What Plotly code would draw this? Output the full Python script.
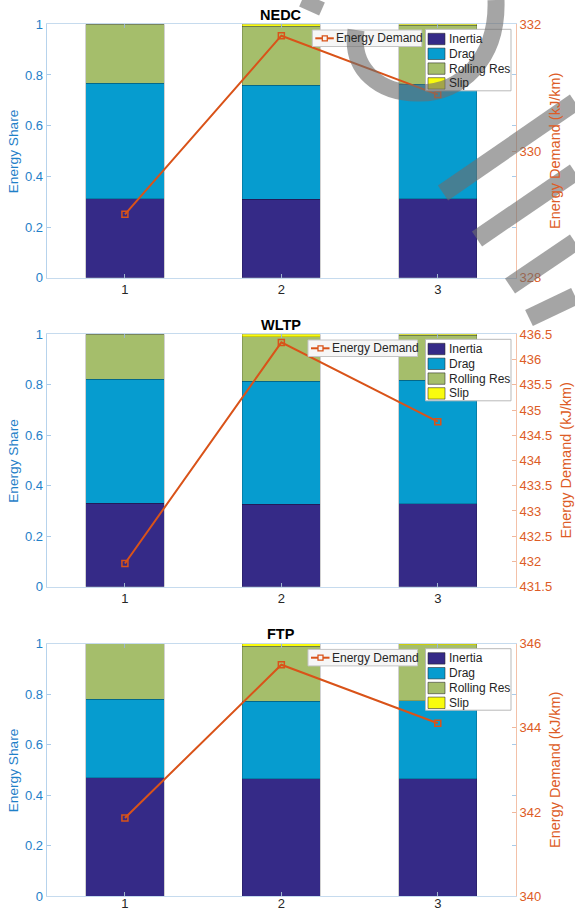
import plotly.graph_objects as go

W, H = 575, 913

# ---------------- data ----------------
categories = [1, 2, 3]
cycle_names = ["NEDC", "WLTP", "FTP"]
series_names = ["Inertia", "Drag", "Rolling Res", "Slip"]
line_name = "Energy Demand"

nedc_inertia = [0.311, 0.309, 0.311]
nedc_drag = [0.456, 0.451, 0.453]
nedc_rolling = [0.233, 0.233, 0.233]
nedc_slip = [0.0, 0.007, 0.003]
nedc_energy = [329.0, 331.82, 330.89]

wltp_inertia = [0.330, 0.327, 0.329]
wltp_drag = [0.492, 0.487, 0.489]
wltp_rolling = [0.178, 0.177, 0.178]
wltp_slip = [0.0, 0.009, 0.004]
wltp_energy = [431.96, 436.34, 434.77]

ftp_inertia = [0.470, 0.465, 0.466]
ftp_drag = [0.310, 0.307, 0.309]
ftp_rolling = [0.220, 0.218, 0.220]
ftp_slip = [0.0, 0.010, 0.005]
ftp_energy = [341.86, 345.50, 344.11]

share_ticks = [0, 0.2, 0.4, 0.6, 0.8, 1]
nedc_energy_range = [328, 332]
nedc_energy_dtick = 2
wltp_energy_range = [431.5, 436.5]
wltp_energy_dtick = 0.5
ftp_energy_range = [340, 346]
ftp_energy_dtick = 2

# ---------------- style ----------------
bar_colors = ["#352A87", "#069CCF", "#A5BE6B", "#F9FB0E"]
line_color = "#D95319"
left_text = "#1f80c8"
right_text = "#dd5c26"
FONT = "Liberation Sans, Arial, Helvetica, sans-serif"

panels = [
    (cycle_names[0], [nedc_inertia, nedc_drag, nedc_rolling, nedc_slip], nedc_energy,
     nedc_energy_range, nedc_energy_dtick),
    (cycle_names[1], [wltp_inertia, wltp_drag, wltp_rolling, wltp_slip], wltp_energy,
     wltp_energy_range, wltp_energy_dtick),
    (cycle_names[2], [ftp_inertia, ftp_drag, ftp_rolling, ftp_slip], ftp_energy,
     ftp_energy_range, ftp_energy_dtick),
]

# axes boxes in pixels (top, bottom)
panel_px = [(24.3, 277.7), (334.3, 586.7), (643.7, 896.3)]
x_px = (46.7, 516.0)
right_title_x = [555, 565, 555]
line_leg_x = [312.3, 308.0, 308.0]
x_label_shift = [0, 0, -5]   # keep the last row of x labels inside the page


def px_x(x):
    return x / W


def px_y(y):
    return 1 - y / H


fig = go.Figure()
layout = dict(
    width=W, height=H, autosize=False,
    margin=dict(l=0, r=0, t=0, b=0, pad=0, autoexpand=False),
    paper_bgcolor="white", plot_bgcolor="white",
    barmode="stack", bargap=0.5,
    font=dict(family=FONT, size=13, color="#262626"),
    showlegend=False,
    annotations=[], shapes=[],
)


def rect(x0, y0, x1, y1, fill, line, lw):
    layout["shapes"].append(dict(
        type="rect", xref="paper", yref="paper", layer="above",
        x0=px_x(x0), x1=px_x(x1), y0=px_y(y1), y1=px_y(y0),
        fillcolor=fill, line=dict(color=line, width=lw),
    ))


def label(text, x, y, size=12, color="#262626", xanchor="left", angle=0, bold=False):
    layout["annotations"].append(dict(
        text=f"<b>{text}</b>" if bold else text, x=px_x(x), y=px_y(y),
        xref="paper", yref="paper", showarrow=False, textangle=angle,
        xanchor=xanchor, yanchor="middle",
        font=dict(size=size, color=color, family=FONT),
    ))


for i, (name, shares, energy, erange, edtick) in enumerate(panels):
    xa = "x" if i == 0 else f"x{i + 1}"
    yl_n = 2 * i + 1
    yr_n = 2 * i + 2
    yl = "y" if yl_n == 1 else f"y{yl_n}"
    yr = f"y{yr_n}"

    for s, vals in enumerate(shares):
        fig.add_trace(go.Bar(
            x=categories, y=vals, name=series_names[s], width=0.5,
            marker=dict(color=bar_colors[s], line=dict(color="rgba(0,0,0,0.3)", width=0.6)),
            xaxis=xa, yaxis=yl,
        ))
    fig.add_trace(go.Scatter(
        x=categories, y=energy, name=line_name, mode="lines+markers",
        line=dict(color=line_color, width=2),
        marker=dict(symbol="square-open", size=6, color=line_color, line=dict(width=1.5, color=line_color)),
        xaxis=xa, yaxis=yr,
    ))

    top, bot = panel_px[i]
    dom_y = [px_y(bot), px_y(top)]
    dom_x = [px_x(x_px[0]), px_x(x_px[1])]

    layout["xaxis" if i == 0 else f"xaxis{i + 1}"] = dict(
        domain=dom_x, anchor=yl, range=[0.5, 3.5], tickvals=categories, automargin=False,
        showgrid=False, zeroline=False, showline=True, linecolor="#c6dbee", linewidth=1,
        mirror="ticks", ticks="inside", ticklen=4, tickcolor="#9fb6cc",
        ticklabelstandoff=x_label_shift[i],
        tickfont=dict(size=13, color="#262626", family=FONT),
    )
    layout["yaxis" if yl_n == 1 else f"yaxis{yl_n}"] = dict(
        domain=dom_y, anchor=xa, range=[0, 1], tickvals=share_ticks, automargin=False,
        showgrid=False, zeroline=False, showline=True, linecolor="#b7d3ec", linewidth=1,
        mirror="ticks", ticks="inside", ticklen=4, tickcolor="#a9cbea",
        tickfont=dict(size=13, color=left_text, family=FONT),
    )
    layout[f"yaxis{yr_n}"] = dict(
        domain=dom_y, anchor=xa, overlaying=yl, side="right", range=erange, dtick=edtick,
        tick0=erange[0], automargin=False,
        showgrid=False, zeroline=False, showline=True, linecolor="#f3c1a8", linewidth=1,
        ticks="inside", ticklen=4, tickcolor="#f0b79b",
        tickfont=dict(size=13, color=right_text, family=FONT),
    )

    # ----- legend for the stacked bars -----
    rect(425.5, top + 5, 511, top + 66.5, "white", "#b9b9b9", 1)
    for s, sname in enumerate(series_names):
        cy = top + 14.7 + 14.8 * s
        rect(428, cy - 5.7, 445, cy + 5.7, bar_colors[s], "rgba(40,40,40,0.7)", 0.8)
        label(sname, 446.5, cy)

    # ----- legend for the line -----
    lx = line_leg_x[i]
    rect(lx, top + 5.7, lx + 109.5, top + 22.2, "#f6f6f6", "#c4c4c4", 1)
    cy = top + 14
    layout["shapes"].append(dict(
        type="line", xref="paper", yref="paper", layer="above",
        x0=px_x(lx + 3), x1=px_x(lx + 21.5), y0=px_y(cy), y1=px_y(cy),
        line=dict(color=line_color, width=2),
    ))
    rect(lx + 10, cy - 2.5, lx + 15, cy + 2.5, "#f6f6f6", line_color, 1.3)
    label(line_name, lx + 22, cy)

    # titles
    label(name, (x_px[0] + x_px[1]) / 2, top - 9.5, size=14.5, color="#000000",
          xanchor="center", bold=True)
    label("Energy Share", 13.3, (top + bot) / 2, size=13.7, color=left_text,
          xanchor="center", angle=-90)
    label("Energy Demand (kJ/km)", right_title_x[i], (top + bot) / 2, size=14.5,
          color=right_text, xanchor="center", angle=-90)

# ---------------- watermark (decorative overlay) ----------------
wm = "rgba(110,110,110,0.62)"


def P(x, y):
    return f"{px_x(x):.5f},{px_y(y):.5f}"


watermark_paths = [
    ("M " + P(302, 0) + " L " + P(322, 9), 14),
    ("M " + P(496, 0) + " C " + P(498, 60) + " " + P(460, 93) + " " + P(420, 93)
     + " C " + P(380, 94) + " " + P(350, 70) + " " + P(356, 30), 17),
    ("M " + P(443, 193) + " L " + P(575, 102), 18),
    ("M " + P(477, 239) + " L " + P(575, 172), 18),
    ("M " + P(510, 286) + " L " + P(575, 242), 18),
    ("M " + P(529, 318) + " L " + P(575, 296), 18),
]
for d, w in watermark_paths:
    layout["shapes"].append(dict(
        type="path", path=d, xref="paper", yref="paper", layer="above",
        line=dict(color=wm, width=w),
    ))

fig.update_layout(**layout)
fig.write_html(
    "out.html", config={"displayModeBar": False},
    post_script=("document.body.style.margin='0px';"
                 "document.body.style.overflow='hidden';"
                 "document.documentElement.style.overflow='hidden';"),
)
